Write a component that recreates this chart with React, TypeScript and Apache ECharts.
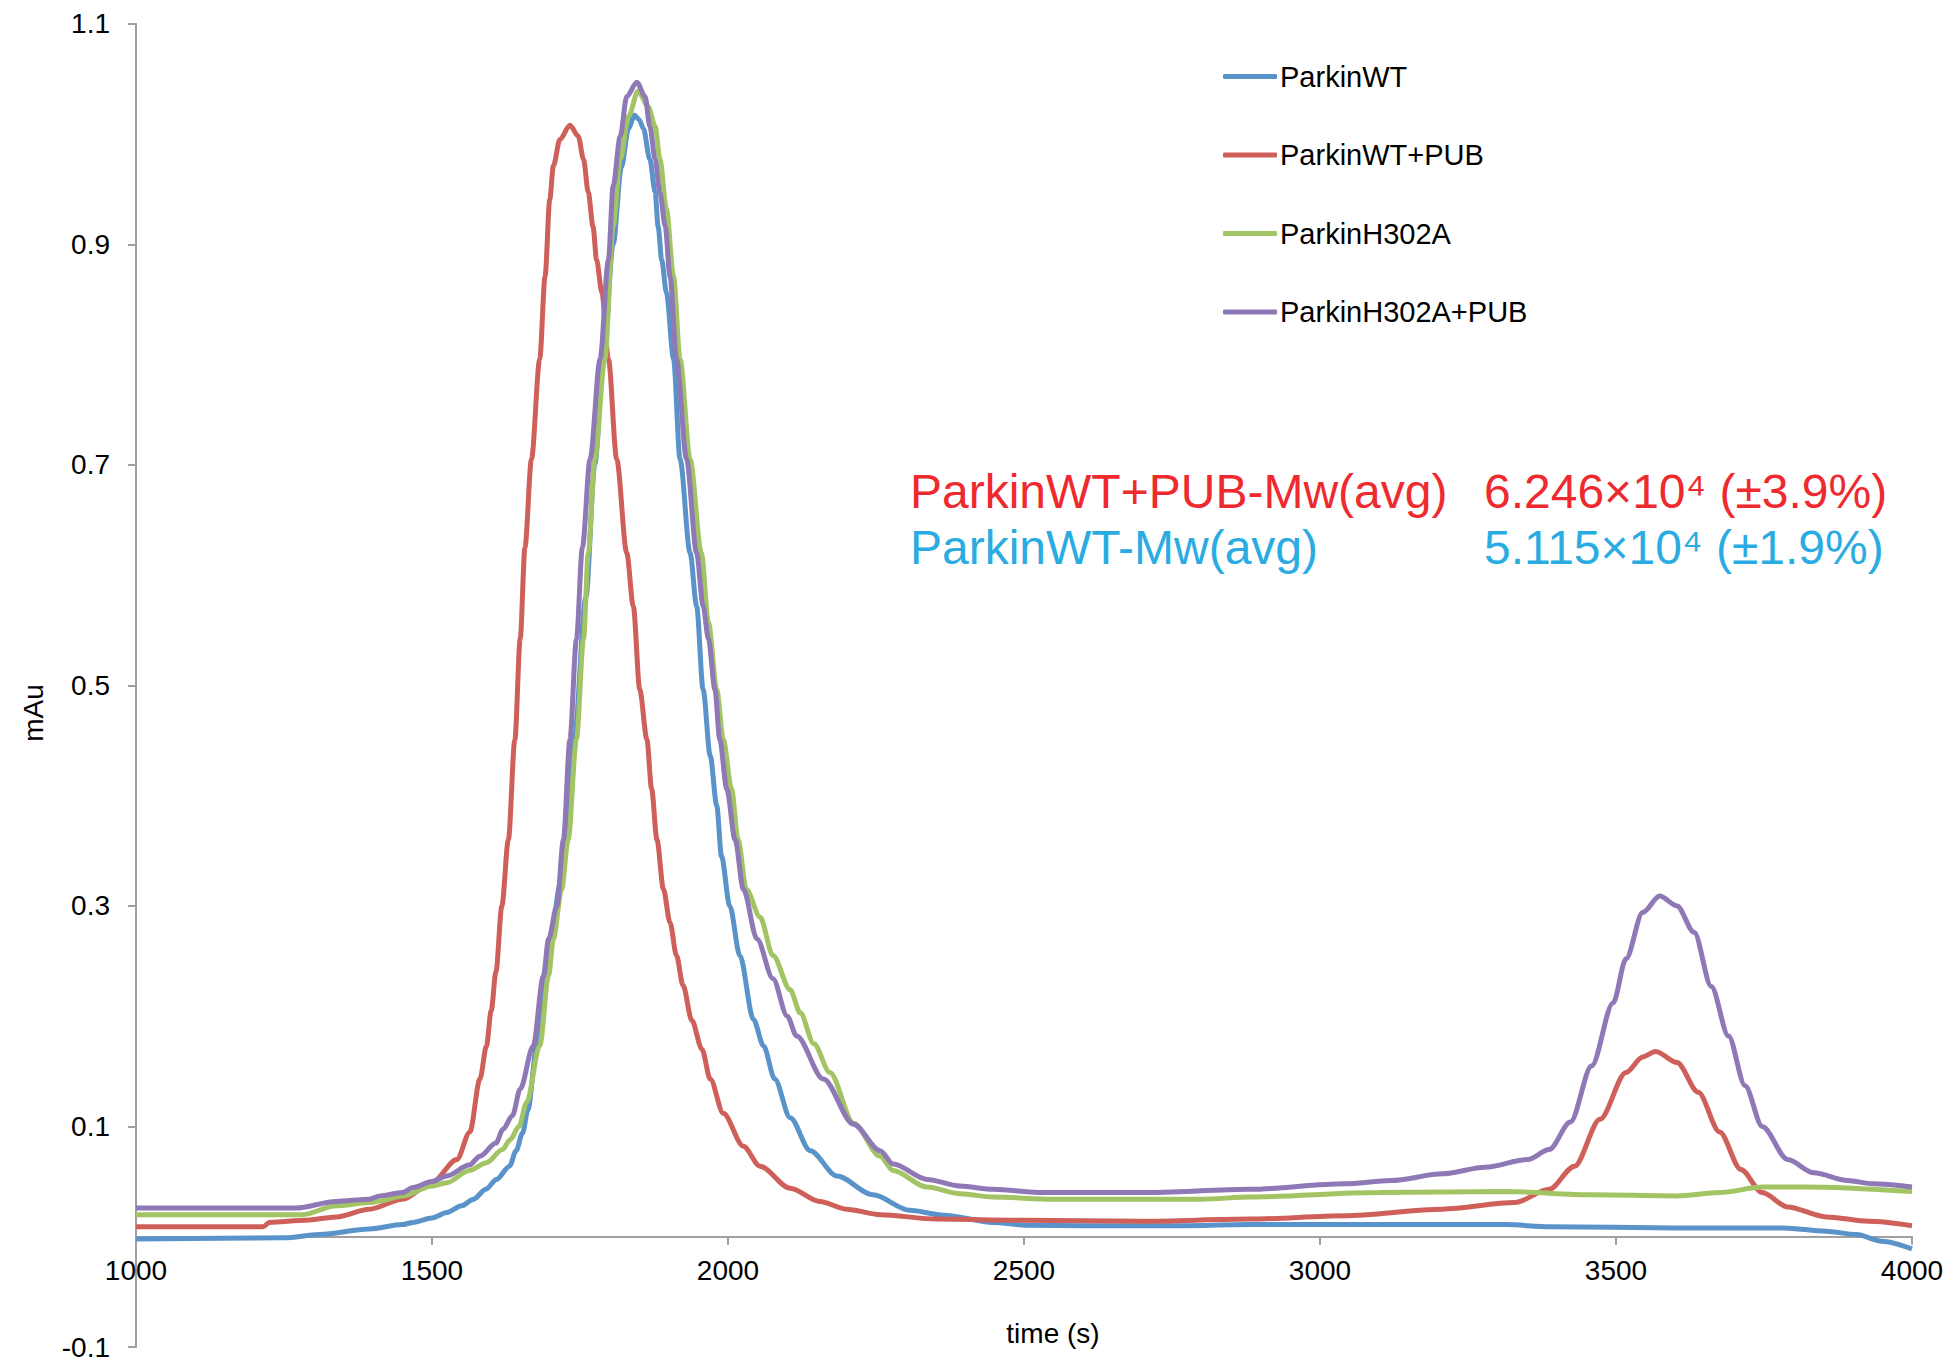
import React, { useEffect, useRef } from "react";
import * as echarts from "echarts";

// time (s) -> mAu
const parkinWT: [number, number][] = [
  [1000, -0.002], [1250, -0.001], [1310, 0.002], [1394, 0.007], [1450, 0.011], [1468, 0.013],
  [1500, 0.017], [1525, 0.022], [1550, 0.028], [1570, 0.034], [1591, 0.043], [1609, 0.052],
  [1631, 0.064], [1642, 0.078], [1653, 0.094], [1662, 0.115], [1677, 0.173], [1694, 0.24],
  [1717, 0.32], [1740, 0.45], [1760, 0.58], [1775, 0.7], [1790, 0.8], [1806, 0.9],
  [1820, 0.97], [1832, 1.005], [1842, 1.017], [1850, 1.013], [1857, 1.005], [1868, 0.977],
  [1877, 0.947], [1882, 0.916], [1888, 0.886], [1896, 0.856], [1908, 0.796], [1919, 0.705],
  [1936, 0.62], [1947, 0.572], [1958, 0.496], [1970, 0.436], [1981, 0.391], [1989, 0.345],
  [2003, 0.3], [2020, 0.255], [2043, 0.197], [2060, 0.173], [2079, 0.143], [2105, 0.108],
  [2139, 0.078], [2184, 0.055], [2245, 0.038], [2307, 0.024], [2364, 0.0195], [2448, 0.013],
  [2504, 0.0105], [2600, 0.01], [2750, 0.01], [2883, 0.011], [3100, 0.011], [3315, 0.011],
  [3387, 0.009], [3600, 0.008], [3783, 0.008], [3855, 0.005], [3906, 0.002], [3949, -0.004],
  [4000, -0.011],
];

const parkinWTPUB: [number, number][] = [
  [1000, 0.009], [1215, 0.009], [1225, 0.013], [1287, 0.015], [1338, 0.018], [1394, 0.025],
  [1450, 0.034], [1500, 0.049], [1542, 0.07], [1564, 0.095], [1581, 0.143], [1592, 0.173],
  [1600, 0.205], [1608, 0.24], [1618, 0.3], [1629, 0.36], [1640, 0.451], [1649, 0.542],
  [1657, 0.625], [1668, 0.705], [1682, 0.796], [1691, 0.871], [1699, 0.941], [1705, 0.971],
  [1716, 0.995], [1733, 1.008], [1747, 0.998], [1756, 0.977], [1764, 0.947], [1772, 0.916],
  [1778, 0.886], [1787, 0.856], [1798, 0.796], [1812, 0.705], [1829, 0.62], [1840, 0.572],
  [1851, 0.496], [1863, 0.451], [1871, 0.406], [1880, 0.36], [1891, 0.315], [1902, 0.285],
  [1913, 0.255], [1924, 0.228], [1939, 0.196], [1956, 0.17], [1970, 0.143], [1992, 0.112],
  [2026, 0.082], [2054, 0.064], [2105, 0.044], [2155, 0.032], [2200, 0.025], [2257, 0.02],
  [2352, 0.016], [2500, 0.015], [2700, 0.014], [2883, 0.016], [3041, 0.019], [3207, 0.025],
  [3329, 0.031], [3387, 0.043], [3430, 0.064], [3473, 0.1065], [3517, 0.149], [3545, 0.163],
  [3567, 0.168], [3603, 0.158], [3639, 0.131], [3675, 0.095], [3711, 0.061], [3747, 0.04],
  [3790, 0.027], [3855, 0.018], [3927, 0.014], [4000, 0.01],
];

const parkinH302A: [number, number][] = [
  [1000, 0.02], [1281, 0.02], [1338, 0.028], [1394, 0.031], [1412, 0.0325], [1450, 0.037],
  [1500, 0.046], [1525, 0.049], [1563, 0.06], [1592, 0.067], [1619, 0.079], [1632, 0.088],
  [1647, 0.1], [1660, 0.122], [1682, 0.173], [1697, 0.237], [1705, 0.27], [1719, 0.315],
  [1730, 0.36], [1744, 0.451], [1756, 0.542], [1764, 0.62], [1775, 0.705], [1792, 0.796],
  [1806, 0.916], [1818, 0.977], [1832, 1.016], [1848, 1.039], [1865, 1.025], [1877, 1.007],
  [1885, 0.977], [1896, 0.932], [1908, 0.871], [1919, 0.796], [1936, 0.705], [1955, 0.62],
  [1967, 0.557], [1981, 0.496], [1992, 0.451], [2006, 0.406], [2017, 0.36], [2031, 0.315],
  [2054, 0.29], [2076, 0.255], [2105, 0.224], [2122, 0.203], [2145, 0.175], [2172, 0.149],
  [2212, 0.103], [2257, 0.073], [2279, 0.06], [2336, 0.045], [2392, 0.039], [2448, 0.036],
  [2550, 0.034], [2800, 0.034], [2883, 0.036], [3099, 0.04], [3315, 0.041], [3459, 0.038],
  [3603, 0.037], [3675, 0.04], [3747, 0.045], [3819, 0.045], [4000, 0.041],
];

const parkinH302APUB: [number, number][] = [
  [1000, 0.026], [1270, 0.026], [1338, 0.032], [1394, 0.034], [1412, 0.037], [1450, 0.04],
  [1468, 0.0446], [1500, 0.05], [1525, 0.055], [1563, 0.065], [1581, 0.073], [1608, 0.085],
  [1620, 0.0975], [1636, 0.11], [1649, 0.134], [1671, 0.173], [1688, 0.236], [1697, 0.27],
  [1711, 0.3], [1722, 0.36], [1733, 0.451], [1744, 0.542], [1754, 0.625], [1767, 0.705],
  [1784, 0.796], [1798, 0.886], [1806, 0.953], [1818, 0.998], [1829, 1.034], [1846, 1.047],
  [1860, 1.034], [1868, 1.007], [1877, 0.977], [1885, 0.947], [1894, 0.916], [1902, 0.871],
  [1913, 0.796], [1930, 0.705], [1947, 0.62], [1958, 0.572], [1967, 0.542], [1978, 0.496],
  [1986, 0.451], [1998, 0.406], [2012, 0.36], [2026, 0.315], [2049, 0.27], [2076, 0.234],
  [2100, 0.2], [2116, 0.182], [2161, 0.143], [2212, 0.102], [2257, 0.078], [2279, 0.066],
  [2336, 0.052], [2392, 0.046], [2448, 0.043], [2533, 0.04], [2700, 0.04], [2883, 0.043],
  [3041, 0.048], [3120, 0.051], [3207, 0.057], [3279, 0.063], [3351, 0.07], [3387, 0.079],
  [3423, 0.104], [3459, 0.155], [3495, 0.212], [3517, 0.252], [3545, 0.294], [3574, 0.309],
  [3603, 0.3], [3632, 0.276], [3661, 0.227], [3690, 0.182], [3718, 0.137], [3747, 0.1],
  [3790, 0.07], [3834, 0.058], [3891, 0.051], [3934, 0.048], [4000, 0.045],
];

const seriesNames = ["ParkinWT", "ParkinWT+PUB", "ParkinH302A", "ParkinH302A+PUB"];
const seriesData = [parkinWT, parkinWTPUB, parkinH302A, parkinH302APUB];
const seriesColors = ["#5A93CA", "#CF5F59", "#A3C464", "#8E78B5"];

const annotationLabels = ["ParkinWT+PUB-Mw(avg)", "ParkinWT-Mw(avg)"];
const annotationValues = ["6.246×10⁴ (±3.9%)", "5.115×10⁴ (±1.9%)"];
const annotationColors = ["#EE2A2F", "#2AACE2"];

const FONT = "'Liberation Sans', Arial, sans-serif";

// Layout (pixels)
const GRID_TOP = 23.7;
const GRID_BOTTOM = 16;
const CHART_H = 1363;
const Y_MIN = -0.1;
const Y_MAX = 1.1;

export default function App() {
  const ref = useRef<HTMLDivElement>(null);
  useEffect(() => {
    if (!ref.current) return;
    const chart = echarts.init(ref.current, null, { renderer: "svg" });
    const axisColor = "#A0A0A0";
    const plotH = CHART_H - GRID_TOP - GRID_BOTTOM;
    // move the x axis up from the grid bottom so that it sits on y = 0
    const xAxisOffset = -plotH * ((0 - Y_MIN) / (Y_MAX - Y_MIN));
    chart.setOption({
      animation: false,
      backgroundColor: "#ffffff",
      textStyle: { fontFamily: FONT },
      grid: {
        left: 136,
        right: 42,
        top: GRID_TOP,
        bottom: GRID_BOTTOM,
        containLabel: false,
        outerBoundsMode: "none",
      },
      legend: {
        orient: "vertical",
        left: 1218,
        top: 57,
        itemWidth: 54,
        itemHeight: 5,
        itemGap: 49.5,
        icon: "roundRect",
        data: seriesNames,
        textStyle: { fontSize: 29, color: "#000", fontFamily: FONT, padding: [0, 0, 0, -2] },
      },
      xAxis: {
        type: "value",
        min: 1000,
        max: 4000,
        interval: 500,
        position: "bottom",
        offset: xAxisOffset,
        axisLine: { show: true, onZero: false, lineStyle: { color: axisColor, width: 2 } },
        axisTick: { show: true, length: 8, lineStyle: { color: axisColor, width: 2 } },
        axisLabel: {
          fontSize: 28,
          color: "#000",
          margin: 20,
          fontFamily: FONT,
          formatter: (v: number) => String(Math.round(v)),
        },
        splitLine: { show: false },
      },
      yAxis: {
        type: "value",
        min: Y_MIN,
        max: Y_MAX,
        interval: 0.2,
        axisLine: { show: true, lineStyle: { color: axisColor, width: 2 } },
        axisTick: { show: true, length: 8, lineStyle: { color: axisColor, width: 2 } },
        axisLabel: {
          fontSize: 28,
          color: "#000",
          margin: 26,
          fontFamily: FONT,
          formatter: (v: number) => (Math.round(v * 10) / 10).toFixed(1),
        },
        splitLine: { show: false },
      },
      series: seriesNames.map((name, i) => ({
        name,
        type: "line",
        data: seriesData[i],
        showSymbol: false,
        symbol: "none",
        smooth: 0.3,
        smoothMonotone: "x",
        lineStyle: { color: seriesColors[i], width: 5 },
        itemStyle: { color: seriesColors[i] },
      })),
      graphic: [
        {
          type: "text",
          x: 1053,
          y: 1333,
          style: {
            text: "time (s)",
            fontSize: 28,
            fontFamily: FONT,
            fill: "#000",
            align: "center",
            verticalAlign: "middle",
          },
        },
        {
          type: "text",
          x: 33,
          y: 713,
          rotation: Math.PI / 2,
          style: {
            text: "mAu",
            fontSize: 28,
            fontFamily: FONT,
            fill: "#000",
            align: "center",
            verticalAlign: "middle",
          },
        },
        ...annotationLabels.map((t, i) => ({
          type: "text",
          x: 910,
          y: 491 + i * 56,
          style: {
            text: t,
            fontSize: 48,
            fontFamily: FONT,
            fill: annotationColors[i],
            align: "left",
            verticalAlign: "middle",
          },
        })),
        ...annotationValues.map((t, i) => ({
          type: "text",
          x: 1484,
          y: 491 + i * 56,
          style: {
            text: t,
            fontSize: 48,
            fontFamily: FONT,
            fill: annotationColors[i],
            align: "left",
            verticalAlign: "middle",
          },
        })),
      ],
    });
    return () => chart.dispose();
  }, []);
  return (
    <div
      ref={ref}
      style={{ position: "absolute", left: 0, top: 0, width: 1954, height: 1363 }}
    />
  );
}
